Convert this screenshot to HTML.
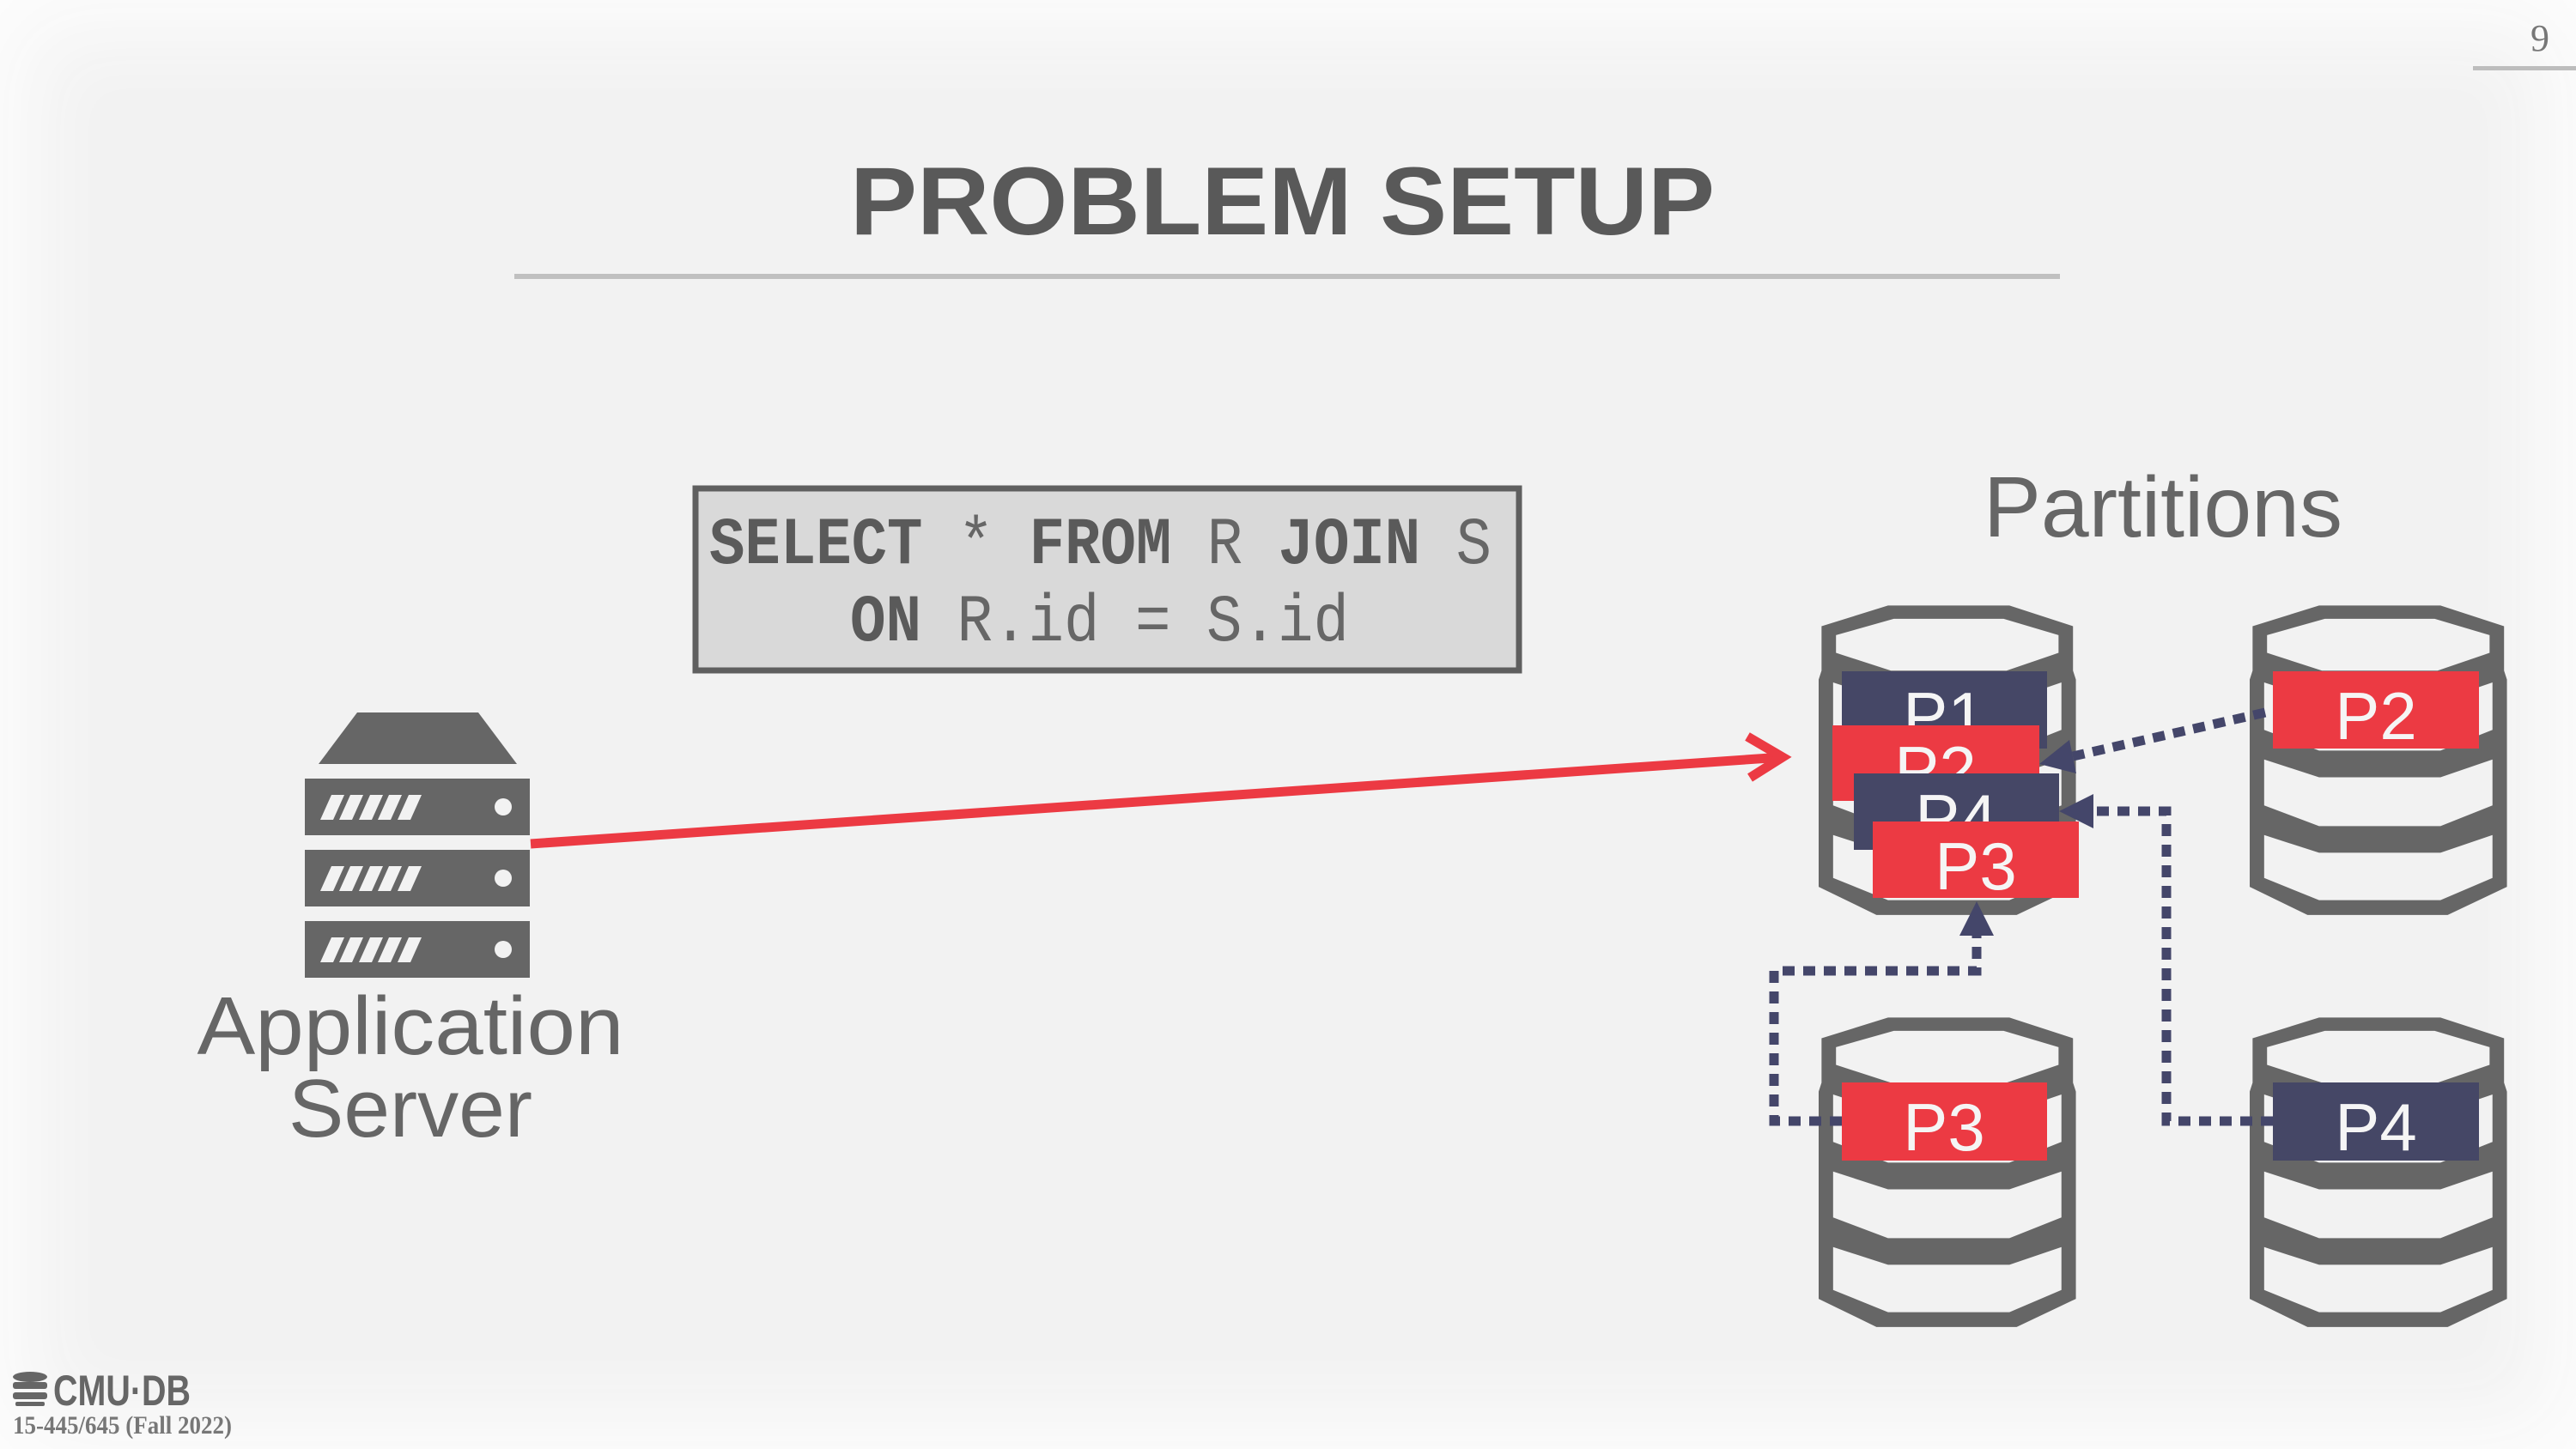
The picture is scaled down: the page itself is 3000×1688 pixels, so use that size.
<!DOCTYPE html>
<html><head><meta charset="utf-8"><style>
html,body{margin:0;padding:0;}
body{width:3000px;height:1688px;background:#f2f2f2;overflow:hidden;position:relative;}
.vig{position:absolute;left:0;top:0;width:3000px;height:1688px;box-shadow:inset 0 0 90px 40px #fcfcfc;}
svg{position:absolute;left:0;top:0;}
</style></head><body>
<div class="vig"></div>
<svg width="3000" height="1688" viewBox="0 0 3000 1688" xmlns="http://www.w3.org/2000/svg">
<defs>
<g id="db">
 <polygon fill="#666" points="2,20 48,6 132,6 176,20 176,50 178,56 178,196 137,215 40,215 0,196 0,56 2,50"/>
 <polygon fill="#f2f2f2" points="12,26 52,15 128,15 166,26 166,38 130,50 50,50 12,38"/>
 <polygon fill="#f2f2f2" points="10,58 48,70 132,70 168,58 168,90 132,104 48,104 10,90"/>
 <polygon fill="#f2f2f2" points="10,110 48,122 132,122 168,110 168,141 132,155 48,155 10,141"/>
 <polygon fill="#f2f2f2" points="10,161 48,173 132,173 168,161 168,190 132,205 48,205 10,190"/>
</g>
</defs>
<text x="2958" y="59" font-family="Liberation Serif, serif" font-size="44" fill="#777" text-anchor="middle">9</text>
<rect x="2880" y="77" width="120" height="5" fill="#bdbdbd"/>
<text x="990" y="273" font-family="Liberation Sans, sans-serif" font-weight="bold" font-size="112" fill="#595959" textLength="1007" lengthAdjust="spacingAndGlyphs">PROBLEM SETUP</text>
<rect x="599" y="319" width="1800" height="6" fill="#c0c0c0"/>
<rect x="810" y="569" width="959" height="212" fill="#d9d9d9" stroke="#5f5f5f" stroke-width="7"/>
<text x="826" y="656" font-family="Liberation Mono, monospace" font-size="78" fill="#666" textLength="911" lengthAdjust="spacingAndGlyphs"><tspan font-weight="bold" fill="#5a5a5a">SELECT</tspan> * <tspan font-weight="bold" fill="#5a5a5a">FROM</tspan> R <tspan font-weight="bold" fill="#5a5a5a">JOIN</tspan> S</text>
<text x="990" y="746" font-family="Liberation Mono, monospace" font-size="78" fill="#666" textLength="581" lengthAdjust="spacingAndGlyphs"><tspan font-weight="bold" fill="#5a5a5a">ON</tspan> R.id = S.id</text>
<text x="2310" y="625" font-family="Liberation Sans, sans-serif" font-size="100" fill="#666" textLength="418" lengthAdjust="spacingAndGlyphs">Partitions</text>
<polygon fill="#666" points="371,890 416,830 557,830 602,890"/>
<g fill="#666">
<rect x="355" y="907" width="262" height="66"/>
<rect x="355" y="990" width="262" height="66"/>
<rect x="355" y="1073" width="262" height="66"/>
</g>
<g fill="#f2f2f2">
<g id="sl"><polygon points="373,955 388,955 401,926 386,926"/><polygon points="395,955 410,955 423,926 408,926"/><polygon points="418,955 433,955 446,926 431,926"/><polygon points="440,955 455,955 468,926 453,926"/><polygon points="463,955 478,955 491,926 476,926"/><circle cx="586" cy="940" r="10"/></g>
<use href="#sl" transform="translate(0,83)"/>
<use href="#sl" transform="translate(0,166)"/>
</g>
<text x="478" y="1228" font-family="Liberation Sans, sans-serif" font-size="96" fill="#666" text-anchor="middle" textLength="497" lengthAdjust="spacingAndGlyphs">Application</text>
<text x="478" y="1324" font-family="Liberation Sans, sans-serif" font-size="96" fill="#666" text-anchor="middle" textLength="284" lengthAdjust="spacingAndGlyphs">Server</text>
<line x1="618" y1="983" x2="2076" y2="882" stroke="#ec3a43" stroke-width="11"/>
<polyline points="2035,858 2076,882 2038,906" fill="none" stroke="#ec3a43" stroke-width="11"/>
<use href="#db" transform="translate(2118,695) scale(1.683,1.725)"/>
<use href="#db" transform="translate(2620,695) scale(1.683,1.725)"/>
<use href="#db" transform="translate(2118,1175) scale(1.683,1.725)"/>
<use href="#db" transform="translate(2620,1175) scale(1.683,1.725)"/>
<g fill="none" stroke="#44466a" stroke-width="11" stroke-dasharray="14 10">
<path d="M2638,830 L2414,881"/>
<path d="M2647,1306 H2523 V945 H2438"/>
<path d="M2145,1306 H2066 V1131 H2302 V1090"/>
</g>
<g font-family="Liberation Sans, sans-serif" font-size="78" fill="#f5f5f5" text-anchor="middle">
<rect x="2145" y="782" width="239" height="90" fill="#454766"/><text x="2264" y="861">P1</text>
<rect x="2134" y="845" width="241" height="88" fill="#ec3a43"/><text x="2254" y="924">P2</text>
<rect x="2159" y="901" width="239" height="89" fill="#454766"/><text x="2278" y="980">P4</text>
<rect x="2181" y="957" width="240" height="89" fill="#ec3a43"/><text x="2301" y="1036">P3</text>
<rect x="2647" y="782" width="240" height="90" fill="#ec3a43"/><text x="2767" y="861">P2</text>
<rect x="2145" y="1261" width="239" height="91" fill="#ec3a43"/><text x="2264" y="1340">P3</text>
<rect x="2647" y="1261" width="240" height="91" fill="#454766"/><text x="2767" y="1340">P4</text>
</g>
<g fill="#44466a">
<polygon points="2375,890 2418,901 2410,862"/>
<polygon points="2398,945 2438,925 2438,965"/>
<polygon points="2302,1050 2282,1090 2322,1090"/>
</g>
<g fill="#666">
<ellipse cx="35" cy="1604" rx="20" ry="6"/>
<rect x="15" y="1610" width="40" height="8" rx="3"/>
<rect x="15" y="1622" width="40" height="8" rx="3"/>
<rect x="18" y="1633" width="34" height="5" rx="2"/>
</g>
<text x="62" y="1637" font-family="Liberation Sans, sans-serif" font-weight="bold" font-size="50" fill="#666" textLength="160" lengthAdjust="spacingAndGlyphs">CMU·DB</text>
<text x="15" y="1670" font-family="Liberation Serif, serif" font-weight="bold" font-size="30" fill="#777" textLength="255" lengthAdjust="spacingAndGlyphs">15-445/645 (Fall 2022)</text>
</svg>
</body></html>
